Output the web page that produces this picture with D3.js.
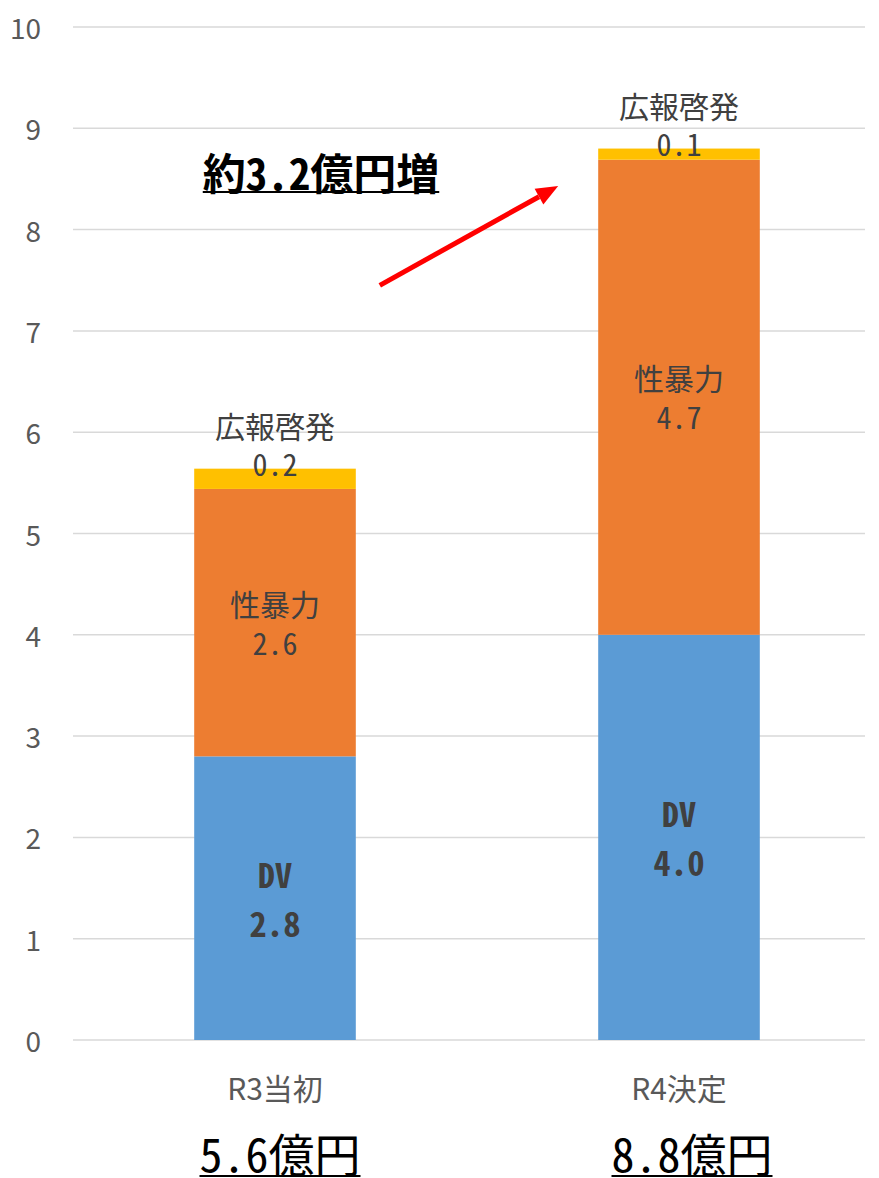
<!DOCTYPE html>
<html>
<head>
<meta charset="utf-8">
<script src="https://cdn.jsdelivr.net/npm/d3@7"></script>
<style>
  html, body { margin: 0; padding: 0; background: #fff; }
  svg { display: block; }
</style>
</head>
<body>
<svg id="chart" width="879" height="1178"></svg>
<script>
// ---- data ----
const categories = ["R3当初", "R4決定"];
const seriesNames = ["DV", "性暴力", "広報啓発"];
const dvValues = [2.80, 4.00];
const svValues = [2.64, 4.69];
const prValues = [0.20, 0.11];
const dvLabels = ["2.8", "4.0"];
const svLabels = ["2.6", "4.7"];
const prLabels = ["0.2", "0.1"];
const totalLabels = ["5.6億円", "8.8億円"];
const yTicks = [0, 1, 2, 3, 4, 5, 6, 7, 8, 9, 10];
const annotationText = "約3.2億円増";
const arrowFrom = 7.45;  // value level of arrow start
const arrowTo = 8.43;    // value level of arrow tip
const annotationLevel = 8.58;

const colors = ["#5B9BD5", "#ED7D31", "#FFC000"];
const labelColor = "#404040";
const axisColor = "#595959";
const gridColor = "#d9d9d9";
const jpFont = "'Noto Sans CJK JP', 'Noto Sans JP', sans-serif";
const monoFont = "'Noto Sans Mono CJK JP', 'Noto Sans CJK JP', monospace";

const svg = d3.select("#chart");

const x = d3.scaleBand().domain(categories).range([73, 881]).paddingInner(0.6).paddingOuter(0.3);
const y = d3.scaleLinear().domain([0, 10]).range([1040, 27]);
const gridLeft = 73, gridRight = 865;

// gridlines
svg.append("g").selectAll("line").data(yTicks).join("line")
  .attr("x1", gridLeft).attr("x2", gridRight)
  .attr("y1", d => y(d)).attr("y2", d => y(d))
  .attr("stroke", gridColor).attr("stroke-width", 1.5);

// y tick labels
svg.append("g").selectAll("text").data(yTicks).join("text")
  .attr("x", 41).attr("y", d => y(d))
  .attr("text-anchor", "end").attr("dominant-baseline", "central")
  .attr("font-family", jpFont).attr("font-size", 28).attr("fill", axisColor)
  .text(d => d);

// stack
const rows = categories.map((c, i) => ({ cat: c, DV: dvValues[i], "性暴力": svValues[i], "広報啓発": prValues[i] }));
const stack = d3.stack().keys(seriesNames)(rows);

svg.append("g").selectAll("g").data(stack).join("g")
  .attr("fill", (d, i) => colors[i])
  .selectAll("rect").data(d => d).join("rect")
  .attr("x", d => x(d.data.cat))
  .attr("width", x.bandwidth())
  .attr("y", d => y(d[1]))
  .attr("height", d => y(d[0]) - y(d[1]));

// data labels
const lab = svg.append("g");
categories.forEach((c, i) => {
  const cx = x(c) + x.bandwidth() / 2;
  // DV (bold)
  const dvMid = (y(stack[0][i][0]) + y(stack[0][i][1])) / 2;
  lab.append("text").attr("x", cx).attr("y", dvMid - 25)
    .attr("text-anchor", "middle").attr("dominant-baseline", "central")
    .attr("font-family", monoFont).attr("font-weight", "bold").attr("font-size", 34)
    .attr("fill", labelColor).text(seriesNames[0]);
  lab.append("text").attr("x", cx).attr("y", dvMid + 24)
    .attr("text-anchor", "middle").attr("dominant-baseline", "central")
    .attr("font-family", monoFont).attr("font-weight", "bold").attr("font-size", 34)
    .attr("fill", labelColor).text(dvLabels[i]);
  // 性暴力
  const svMid = (y(stack[1][i][0]) + y(stack[1][i][1])) / 2;
  lab.append("text").attr("x", cx).attr("y", svMid - 20)
    .attr("text-anchor", "middle").attr("dominant-baseline", "central")
    .attr("font-family", jpFont).attr("font-size", 30)
    .attr("fill", labelColor).text(seriesNames[1]);
  lab.append("text").attr("x", cx).attr("y", svMid + 19)
    .attr("text-anchor", "middle").attr("dominant-baseline", "central")
    .attr("font-family", monoFont).attr("font-size", 30)
    .attr("fill", labelColor).text(svLabels[i]);
  // 広報啓発 (above bar)
  const prTop = y(stack[2][i][1]);
  lab.append("text").attr("x", cx).attr("y", prTop - 44)
    .attr("text-anchor", "middle").attr("dominant-baseline", "central")
    .attr("font-family", jpFont).attr("font-size", 30)
    .attr("fill", labelColor).text(seriesNames[2]);
  lab.append("text").attr("x", cx).attr("y", prTop - 6)
    .attr("text-anchor", "middle").attr("dominant-baseline", "central")
    .attr("font-family", monoFont).attr("font-size", 30)
    .attr("fill", labelColor).text(prLabels[i]);
});

// category labels
svg.append("g").selectAll("text").data(categories).join("text")
  .attr("x", d => x(d) + x.bandwidth() / 2).attr("y", 1087)
  .attr("text-anchor", "middle").attr("dominant-baseline", "central")
  .attr("font-family", jpFont).attr("font-size", 30).attr("fill", axisColor)
  .text(d => d);

// underlined text helper
function underlined(g, cx, cy, txt, size, weight, ulY) {
  const t = g.append("text").attr("x", cx).attr("y", cy)
    .attr("text-anchor", "middle").attr("dominant-baseline", "central")
    .attr("font-family", monoFont).attr("font-size", size).attr("font-weight", weight)
    .attr("fill", "#000").text(txt);
  const w = t.node().getComputedTextLength();
  g.append("line").attr("x1", cx - w / 2).attr("x2", cx + w / 2)
    .attr("y1", ulY).attr("y2", ulY).attr("stroke", "#000").attr("stroke-width", 2.2);
}

// totals
const tg = svg.append("g");
categories.forEach((c, i) => {
  const cx = x(c) + x.bandwidth() / 2 + 5 + i * 8;
  underlined(tg, cx, 1152, totalLabels[i], 46, "normal", 1176);
});

// annotation
const ag = svg.append("g");
const r3 = categories[0], r4 = categories[1];
const annX = x(r3) + x.bandwidth() / 2 + 46;
underlined(ag, annX, y(annotationLevel), annotationText, 43, "bold", 192);

// arrow
const ax1 = x(r3) + x.bandwidth() + 24, ay1 = y(arrowFrom);
const ax2 = x(r4) - 40, ay2 = y(arrowTo);
const ang = Math.atan2(ay2 - ay1, ax2 - ax1);
const headLen = 22, headW = 9;
const bx = ax2 - headLen * Math.cos(ang), by = ay2 - headLen * Math.sin(ang);
ag.append("line").attr("x1", ax1).attr("y1", ay1).attr("x2", bx).attr("y2", by)
  .attr("stroke", "#FF0000").attr("stroke-width", 5);
const px = -Math.sin(ang), py = Math.cos(ang);
ag.append("path")
  .attr("d", d3.line()([[ax2, ay2], [bx + px * headW, by + py * headW], [bx - px * headW, by - py * headW]]) + "Z")
  .attr("fill", "#FF0000");
</script>
</body>
</html>
